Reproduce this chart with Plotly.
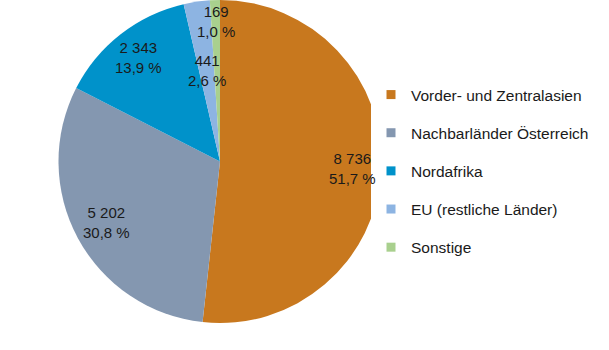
import math
import plotly.graph_objects as go

categories = ["Vorder- und Zentralasien", "Nachbarländer Österreich", "Nordafrika",
              "EU (restliche Länder)", "Sonstige"]
values = [8736, 5202, 2343, 441, 169]
value_labels = ["8 736", "5 202", "2 343", "441", "169"]
percent_labels = ["51,7 %", "30,8 %", "13,9 %", "2,6 %", "1,0 %"]
colors = ["#C8781E", "#8497B0", "#0092CA", "#8DB4E2", "#A9D08E"]
# style: radial placement of each data label (fraction of radius)
label_radius = [0.82, 0.80, 0.82, 0.57, 0.87]

texts = [f"{v}<br>{p}" for v, p in zip(value_labels, percent_labels)]

W, H = 609, 350
dom_x = [58 / W, 382 / W]
dom_y = [1 - 323 / H, 1.0]
fig = go.Figure()
fig.add_trace(go.Pie(
    labels=categories, values=values, text=texts,
    textinfo="none",
    marker=dict(colors=colors, line=dict(width=0)),
    sort=False, direction="clockwise", rotation=0,
    domain=dict(x=dom_x, y=dom_y),
    showlegend=False, hoverinfo="label+value",
))

# data labels placed at slice mid-angles
cx_px = (dom_x[0] + dom_x[1]) / 2 * W
cy_px = (1 - (dom_y[0] + dom_y[1]) / 2) * H
R_px = min((dom_x[1] - dom_x[0]) * W, (dom_y[1] - dom_y[0]) * H) / 2
total = sum(values)
cum = 0
for v, t, rf in zip(values, texts, label_radius):
    mid = (cum + v / 2) / total * 2 * math.pi
    cum += v
    px = cx_px + rf * R_px * math.sin(mid)
    py = cy_px - rf * R_px * math.cos(mid)
    fig.add_annotation(x=px / W, y=1 - py / H, xref="paper", yref="paper",
                       text=t, showarrow=False, xanchor="center", yanchor="middle",
                       font=dict(family="Liberation Sans, Arial", size=15, color="#1a1a1a"))

for i, (c, col) in enumerate(zip(categories, colors)):
    fig.add_trace(go.Scatter(
        x=[None], y=[None], mode="markers", name=c,
        marker=dict(symbol="square", size=9, color=col),
        legendgroup=str(i), showlegend=True,
    ))

fig.update_layout(
    width=W, height=H, margin=dict(l=0, r=0, t=0, b=0),
    paper_bgcolor="white", plot_bgcolor="white",
    xaxis=dict(visible=False), yaxis=dict(visible=False),
    legend=dict(x=371 / W, y=1 - 78 / H, xanchor="left", yanchor="top",
                font=dict(family="Liberation Sans, Arial", size=15.5, color="#1a1a1a"),
                tracegroupgap=15, itemclick=False),
)
fig.write_html("out.html")
